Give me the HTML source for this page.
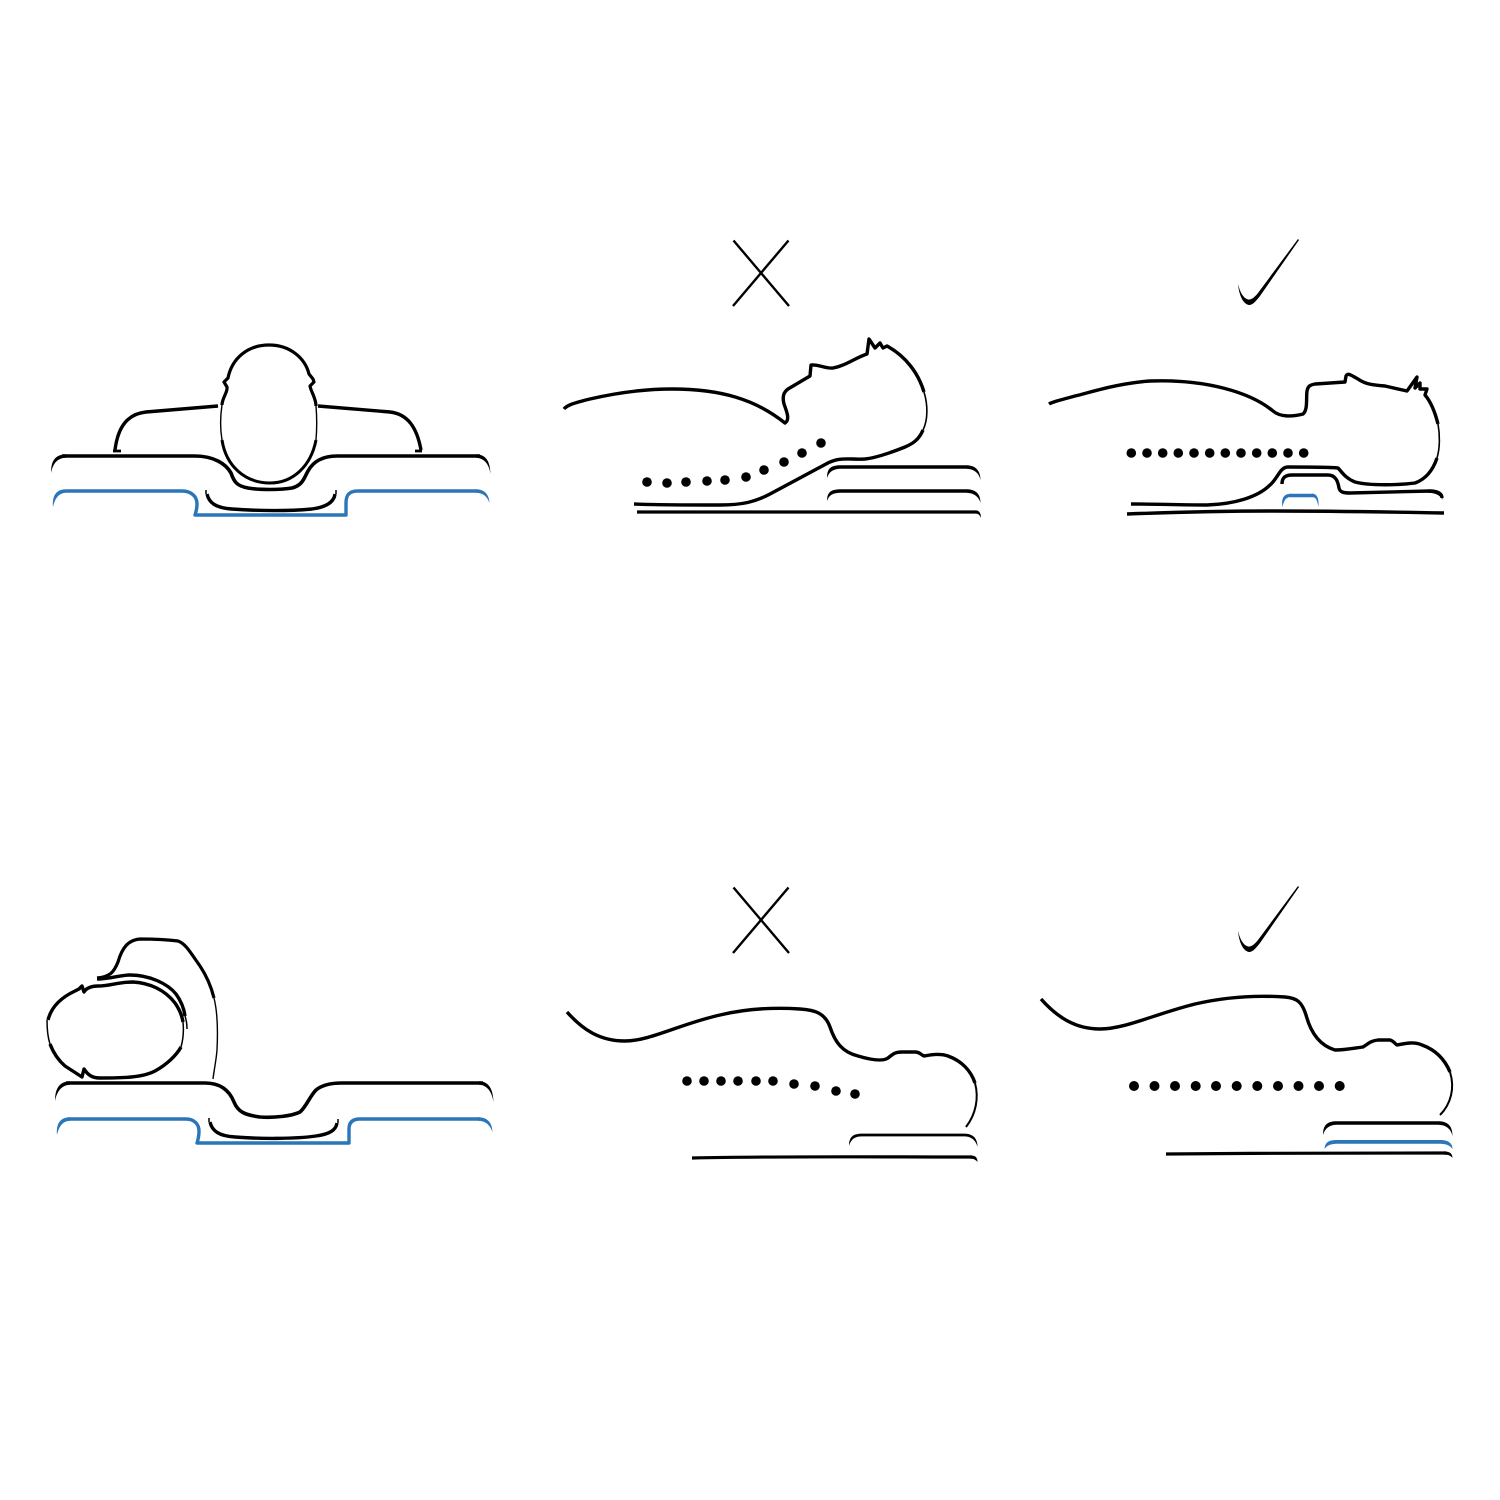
<!DOCTYPE html>
<html><head><meta charset="utf-8"><style>html,body{margin:0;padding:0;background:#fff}svg{display:block}</style></head>
<body>
<svg width="1500" height="1500" viewBox="0 0 1500 1500" xmlns="http://www.w3.org/2000/svg">
<rect width="1500" height="1500" fill="#fff"/>
<g fill="none" stroke="#000" stroke-width="3.400" stroke-linecap="butt" stroke-linejoin="round">

<!-- Panel 1 -->
<path stroke-width="3.200" d="M222 405C222 398 228 392 227 387L224 382L228 378C232 358 248 345 269 345C290 345 305 358 309 374L313 379L314 382L310 386C311 392 316 398 316 406"/>
<path stroke-width="1.400" d="M222 405C220 418 220 428 222 440M316 406C317 418 317 428 316 440"/>
<path stroke-width="3" d="M222 440C226 466 245 483 270 483C293 483 311 466 316 440"/>
<path d="M218 406L146 412C128 414 118 426 115 450"/>
<path stroke-width="2.800" d="M113 451H121M422 451H415"/>
<path d="M318 406L390 412C408 414 417 428 421 450"/>
<path stroke-width="3.600" d="M62 456H195C214 456 226 464 231 473C234 482 237 486 248 488C260 490 280 490 292 488C303 485 304 478 308 471C313 462 322 456 337 456H480"/>
<path stroke="#2b75b9" d="M66 491H182C192 491 197 497 197 504C197 509 196 512 195 515H346V503C346 495 349 491 358 491H477"/>
<path d="M207 494C209 503 216 508 232 509C260 511 290 511 312 509C327 507 334 502 335 494"/>
<path stroke-width="1.500" d="M206 490V494M336 490V494"/>

<!-- Panel 2 -->
<path d="M564 409C567 405 574 403 590 399C620 392 645 389 672 389C720 389 755 399 785 423C790 420 787 412 784 404C782 396 784 392 788 389L810 376L811 365C818 364 826 369 833 368C845 366 855 358 867 354L869 339L875 348L880 343L883 348L887 346C905 356 918 372 924 392"/>
<path stroke-width="1.600" d="M924 392C928 405 928 420 923 430"/>
<path d="M923 430C919 440 912 444 905 447C890 453 875 458 865 459C850 460 840 456 826 464L770 494C755 502 742 505 720 505C690 505 660 505 634 504"/>
<path stroke-width="3.200" d="M637 512H976"/>

<!-- Panel 3 -->
<path d="M1049 404C1052 402 1060 400 1075 396C1095 391 1120 383 1150 381C1205 379 1250 392 1273 411C1280 417 1292 417 1303 414C1308 410 1306 398 1307 391C1308 386 1310 385 1315 384L1345 382L1346 376C1348 372 1352 376 1358 379C1365 384 1372 385 1385 386L1407 391L1417 377L1415 388L1420 383L1420 389L1427 389L1425 395C1431 402 1435 412 1438 424"/>
<path stroke-width="1.600" d="M1438 424C1440 435 1440 448 1437 458"/>
<path d="M1437 458C1433 470 1426 479 1415 483C1400 485 1370 486 1355 482C1345 478 1342 472 1338 468C1330 467 1300 467 1288 467C1280 467 1278 478 1270 485C1258 497 1235 504 1207 505C1180 505 1155 504 1131 504"/>
<path d="M1282 484C1282 478 1285 475 1292 475H1328C1336 475 1338 482 1339 488C1340 492 1343 493 1350 493L1430 491C1438 491 1442 494 1442 498"/>
<path stroke="#2b75b9" d="M1290 495.500H1314"/>
<path stroke-width="3.400" d="M1127 514C1180 512 1230 511 1273 511C1330 511 1390 512 1444 513"/>

<!-- Panel 4 -->
<path d="M48 1020C51 1008 60 998 75 991L79 989L82 986L84 992C86 988 92 986 98 986C110 986 118 982 133 982C150 983 165 990 175 1003C180 1010 182 1016 183 1022"/>
<path stroke-width="1.500" d="M183 1022C184 1032 183 1040 181 1047M47 1020C47 1030 48 1038 50 1044"/>
<path d="M181 1047C176 1056 166 1065 155 1071C142 1078 120 1078 100 1078C92 1078 88 1075 84 1069L82 1077L65 1066C58 1060 53 1052 50 1044"/>
<path stroke-width="3.200" d="M97 978C110 977 114 972 118 962C122 948 128 940 140 939C155 939 170 940 178 941C186 944 190 952 200 966C206 975 211 986 214 998"/>
<path stroke-width="1.400" d="M214 998C217 1010 218 1030 217 1050C216 1062 214 1070 213 1079"/>
<path d="M97 979C110 979 120 975 130 975C150 975 168 984 176 994C181 1001 184 1008 185 1016"/>
<path stroke-width="1.500" d="M185 1016C187 1022 187 1026 187 1029"/>
<path stroke-width="3.600" d="M66 1083H205C222 1083 230 1092 234 1102C238 1112 245 1115 260 1117C275 1118 292 1116 300 1112C306 1107 310 1096 316 1090C322 1085 330 1083 342 1083H483"/>
<path stroke="#2b75b9" d="M68 1119H186C195 1119 199 1125 199 1131C199 1137 198 1140 197 1143H349V1129C349 1122 353 1119 360 1119H480"/>
<path d="M210 1122C212 1131 219 1136 235 1137C260 1139 295 1139 316 1136C330 1134 336 1130 337 1123"/>
<path stroke-width="1.500" d="M209 1118V1122M338 1119V1123"/>

<!-- Panel 5 -->
<path d="M567 1012C583 1030 600 1041 625 1041C650 1041 680 1024 720 1015C745 1009 770 1007 800 1009C815 1010 825 1013 830 1027C835 1042 842 1052 858 1056C868 1059 882 1062 888 1058C893 1054 895 1052 902 1052H915C920 1052 921 1055 924 1056C930 1055 940 1053 948 1056C962 1061 971 1071 975 1083"/>
<path stroke-width="2" d="M975 1083C979 1098 976 1114 966 1127"/>
<path stroke-width="3.200" d="M692 1158C780 1156 880 1157 972 1157"/>

<!-- Panel 6 -->
<path d="M1041 999C1057 1017 1075 1029 1100 1029C1125 1029 1155 1014 1195 1004C1225 997 1255 995 1285 997C1297 998 1302 1002 1306 1015C1310 1030 1318 1045 1335 1050C1345 1050 1355 1048 1363 1047C1368 1044 1370 1041 1378 1040H1390C1394 1041 1395 1044 1397 1045C1403 1044 1413 1041 1422 1045C1436 1050 1445 1060 1450 1072"/>
<path stroke-width="2" d="M1450 1072C1455 1088 1451 1104 1440 1115"/>
<path stroke-width="3.200" d="M1166 1154C1260 1153 1360 1153 1446 1153"/>

<!-- X marks -->
<path stroke-width="2.400" d="M733.500 240.500L789 306M788.500 240.500L733 306"/>
<path stroke-width="2.400" d="M733.500 887.500L789 953M788.500 887.500L733 953"/>
</g>

<!-- Tapered bracket ends and brackets -->
<g fill="#000" stroke="none">
<path d="M51 473C51 461 55 454.500 66 454.200V457.800C58 458 53 463 51 473Z"/>
<path d="M490.500 474C490 461 486 454.500 476 454.200V457.800C484 458 489 464 490.500 474Z"/>
<path d="M55 1101C55 1089 59 1081.500 70 1081.200V1084.800C62 1085 57 1091 55 1101Z"/>
<path d="M493.500 1102C493 1089 489 1081.500 479 1081.200V1084.800C487 1085 492 1092 493.500 1102Z"/>

<path d="M827 478C827 468 831 465.200 841 465.200H966C975 465.200 980.500 470 980.500 480C979 473 974 468.800 966 468.800H841C833 468.800 829 472 827 478Z"/>
<path d="M827 501C827 492 831 489.200 841 489.200H966C975 489.200 980.500 493 980.500 503C979 497 974 492.800 966 492.800H841C833 492.800 829 495 827 501Z"/>
<path d="M976 510.400C979 510.400 981 513 981 518C980 515 978 513.600 976 513.600Z"/>

<path d="M1428 489.400C1437 489.400 1442.500 493 1442.500 500C1441 496 1436 492.700 1428 492.700Z"/>
<path d="M1282 484.500C1281 478 1283 473.500 1292 473.500V476.500C1286 476.500 1283 479 1282 484.500Z"/>

<path d="M849 1146C849 1137 853 1133.600 862 1133.600H964C973 1133.600 977.500 1138 977.500 1147C976 1141 972 1136.400 964 1136.400H862C855 1136.400 851 1139 849 1146Z"/>
<path d="M970 1155.400C975 1155.400 977.500 1157 977.500 1162C976 1160 974 1158.600 970 1158.600Z"/>

<path d="M1323 1135C1323 1125 1327 1121.200 1337 1121.200H1438C1447 1121.200 1452.500 1125 1452.500 1136C1451 1129 1446 1124.800 1438 1124.800H1337C1330 1124.800 1325 1128 1323 1135Z"/>
<path d="M1444 1151.400C1450 1151.400 1452.500 1154 1452.500 1158C1451 1156 1449 1154.600 1444 1154.600Z"/>

<path fill="#2b75b9" d="M1324.500 1149C1325 1142 1329 1140 1337 1140H1440C1448 1140 1452.500 1143 1452.500 1149C1450 1145.500 1446 1143.800 1440 1143.800H1337C1331 1143.800 1327 1145.500 1324.500 1149Z"/>

<path fill="#2b75b9" d="M53 507C52 496 56 489.300 66 489.300V492.700C59 493 55 498 53 507Z"/>
<path fill="#2b75b9" d="M489.500 503C489 495 485 489.300 476 489.300V492.700C483 493 487 496 489.500 503Z"/>
<path fill="#2b75b9" d="M57 1135C56 1124 60 1117.300 70 1117.300V1120.700C63 1121 59 1126 57 1135Z"/>
<path fill="#2b75b9" d="M492.500 1132C492 1123 488 1117.300 478 1117.300V1120.700C486 1121 490 1125 492.500 1132Z"/>
<path fill="#2b75b9" d="M1282.500 507C1281 498 1284 493.800 1291 493.800V497C1286 497 1284 500 1282.500 507Z"/>
<path fill="#2b75b9" d="M1318.500 507C1319 498 1317 493.800 1312 493.800V497C1316 497 1317 500 1318.500 507Z"/>
</g>

<!-- Check marks -->
<g fill="#000" stroke="none">
<path d="M1238 284C1239 295 1243 304 1249 305C1253 305 1256 301 1260 296L1299 240L1298 239L1258 293C1254 298 1251 300 1248 299.500C1243 298 1240 292 1238 284Z"/>
<path d="M1238 931C1239 942 1243 951 1249 952C1253 952 1256 948 1260 943L1299 887L1298 886L1258 940C1254 945 1251 947 1248 946.500C1243 945 1240 939 1238 931Z"/>
</g>

<g fill="#000">
<circle cx="647" cy="482" r="4.800"/><circle cx="667" cy="483" r="4.800"/><circle cx="686" cy="482" r="4.800"/><circle cx="707" cy="481" r="4.800"/><circle cx="725" cy="480" r="4.800"/><circle cx="746" cy="477" r="4.800"/><circle cx="764" cy="470" r="4.800"/><circle cx="784" cy="462" r="4.800"/><circle cx="802" cy="453" r="4.800"/><circle cx="821" cy="443" r="4.800"/>

<circle cx="1131.300" cy="453" r="4.800"/><circle cx="1147" cy="453" r="4.800"/><circle cx="1162.700" cy="453" r="4.800"/><circle cx="1178.300" cy="453" r="4.800"/><circle cx="1194" cy="453" r="4.800"/><circle cx="1209.700" cy="453" r="4.800"/><circle cx="1225.300" cy="453" r="4.800"/><circle cx="1241" cy="453" r="4.800"/><circle cx="1256.700" cy="453" r="4.800"/><circle cx="1272.300" cy="453" r="4.800"/><circle cx="1288" cy="453" r="4.800"/><circle cx="1303.700" cy="453" r="4.800"/>

<circle cx="687" cy="1081" r="4.800"/><circle cx="704" cy="1081" r="4.800"/><circle cx="721" cy="1081" r="4.800"/><circle cx="738" cy="1081" r="4.800"/><circle cx="756" cy="1081" r="4.800"/><circle cx="773" cy="1081" r="4.800"/><circle cx="794" cy="1084" r="4.800"/><circle cx="815" cy="1086" r="4.800"/><circle cx="836" cy="1091" r="4.800"/><circle cx="855" cy="1094" r="4.800"/>

<circle cx="1134" cy="1086" r="5"/><circle cx="1154.500" cy="1086" r="5"/><circle cx="1175" cy="1086" r="5"/><circle cx="1195.700" cy="1086" r="5"/><circle cx="1216" cy="1086" r="5"/><circle cx="1236.700" cy="1086" r="5"/><circle cx="1257.300" cy="1086" r="5"/><circle cx="1278" cy="1086" r="5"/><circle cx="1298.500" cy="1086" r="5"/><circle cx="1319" cy="1086" r="5"/><circle cx="1339.700" cy="1086" r="5"/>
</g>
</svg>
</body></html>
